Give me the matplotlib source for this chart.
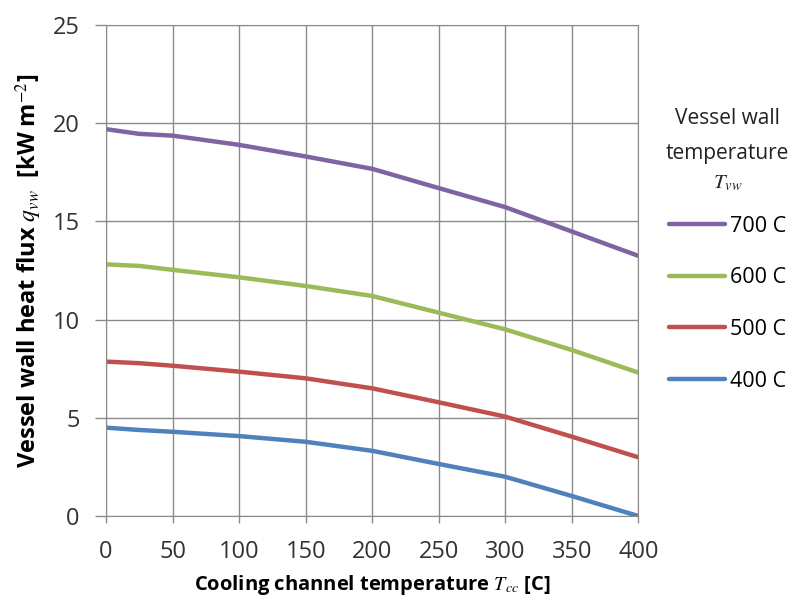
import numpy as np
import matplotlib.pyplot as plt

plt.rcParams['font.family'] = ['Open Sans', 'DejaVu Sans']
plt.rcParams['mathtext.fontset'] = 'stix'

tcc = [0, 25, 50, 100, 150, 200, 250, 300, 350, 400]
q700 = [19.69, 19.45, 19.36, 18.89, 18.30, 17.67, 16.69, 15.72, 14.48, 13.24]
q600 = [12.81, 12.73, 12.53, 12.15, 11.71, 11.20, 10.35, 9.50, 8.45, 7.30]
q500 = [7.86, 7.78, 7.65, 7.35, 7.01, 6.50, 5.79, 5.06, 4.04, 2.99]
q400 = [4.50, 4.38, 4.29, 4.07, 3.78, 3.32, 2.65, 2.00, 1.02, 0.0]
labels = ['700 C', '600 C', '500 C', '400 C']
legend_title = ['Vessel wall', 'temperature', '$T_{vw}$']
col = ['#8064A2', '#9BBB59', '#C0504D', '#4F81BD']

fig = plt.figure(figsize=(7.97, 6.05), dpi=100)
ax = fig.add_axes([0.133, 0.147, 0.668, 0.812])

for y, c, lab in zip([q700, q600, q500, q400], col, labels):
	ax.plot(tcc, y, color=c, linewidth=3.2, label=lab, solid_capstyle='round')

ax.set_xlim(0, 400)
ax.set_ylim(0, 25)
ax.set_xticks(np.arange(0, 401, 50))
ax.set_yticks(np.arange(0, 26, 5))
ax.grid(True, color='#8a8a8a', linewidth=1)
ax.set_axisbelow(True)
for s in ax.spines.values():
	s.set_color('#8a8a8a')
ax.tick_params(colors='#8a8a8a', labelcolor='#333333', labelsize=17, width=1, direction='out')
ax.tick_params(axis='x', length=5, pad=12)
ax.tick_params(axis='y', length=8, pad=11)

ax.set_xlabel(r'Cooling channel temperature $T_{cc}$ [C]', fontsize=14.5, fontweight='bold', labelpad=7)
ax.set_ylabel(r'Vessel wall heat flux $q_{vw}$  [kW m$^{-2}$]', fontsize=17, fontweight='bold', labelpad=6)

# legend title drawn by hand so the line gaps match
for line, yy in zip(legend_title, [0.804, 0.747, 0.698]):
	fig.text(0.913, yy, line, ha='center', va='center', fontsize=15, color='#222222')

leg = ax.legend(loc='upper center', bbox_to_anchor=(0.913, 0.661),
	bbox_transform=fig.transFigure, frameon=False, fontsize=15.5,
	handlelength=2.6, labelspacing=1.42, handletextpad=0.25, borderpad=0)

fig.savefig('out.png', dpi=100)
